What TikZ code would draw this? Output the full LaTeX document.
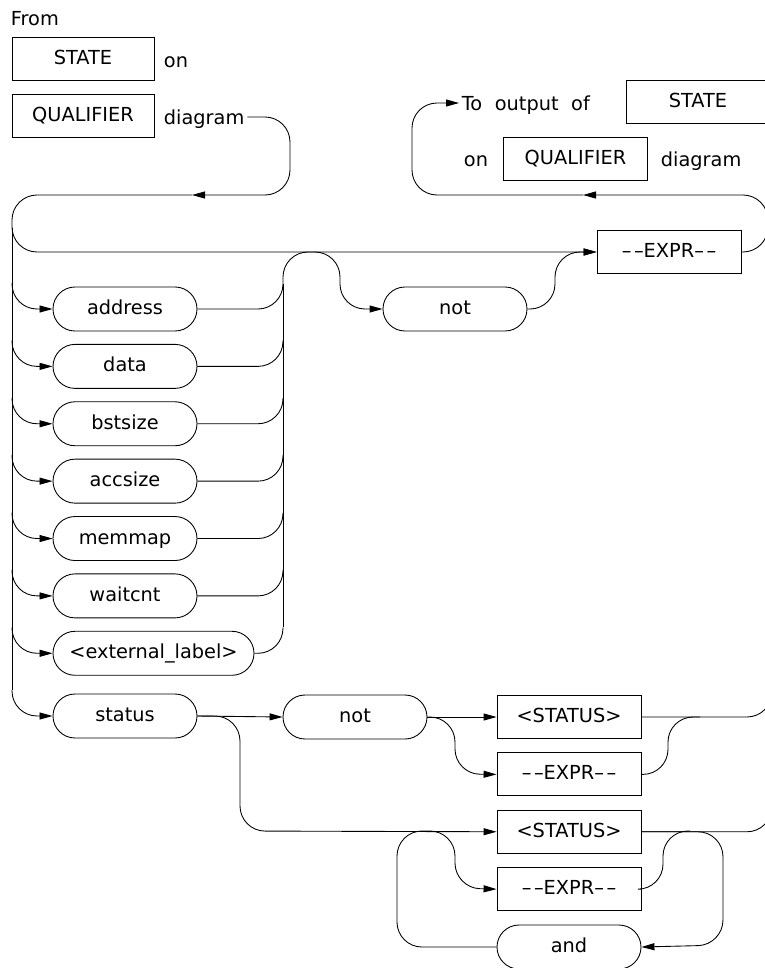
\documentclass[tikz,border=0pt]{standalone}
\usepackage{fontspec}
\setmainfont{DejaVu Sans}
\usetikzlibrary{arrows.meta,positioning,calc}
\newcommand{\exprdash}{\textendash\kern1.5pt\textendash}

\begin{document}
\begin{tikzpicture}[
  x=0.2mm,y=0.2mm,
  font=\fontsize{11}{13}\selectfont,
  >={Triangle[length=2.6mm,width=1.4mm]},
  line width=0.5pt,
  kw/.style={draw,rounded corners=4.4mm,minimum width=28.8mm,minimum height=8.8mm,inner sep=1pt,text height=2.9mm,text depth=0.7mm},
  refbox/.style={draw,minimum width=28.8mm,minimum height=8.6mm,inner sep=1pt,text height=2.9mm,text depth=0.7mm},
  txt/.style={inner sep=0.5mm,text height=2.9mm,text depth=0mm,anchor=west},
  wire/.style={rounded corners=5mm},
  node distance=2.5mm,
]
\useasboundingbox (0,0) rectangle (765,-968);
\clip (0,0) rectangle (765,-968);

% ============ entry / exit labels ============
\node[txt] (from) at (8,-18) {From};
\node[refbox,minimum width=28.4mm] (stateA) at (83,-59) {STATE};
\node[txt] (onA) at (161,-60) {on};
\node[refbox,minimum width=28.4mm] (qualA) at (83,-116) {QUALIFIER};
\node[txt] (diagA) at (161,-117) {diagram};

\node[txt] (tout) at (459,-103) {\spaceskip=0.65em To output of};
\node[refbox] (stateB) at (698,-102) {STATE};
\node[txt] (onB) at (461,-159) {on};
\node[refbox] (qualB) at (575.5,-158.5) {QUALIFIER};
\node[txt] (diagB) at (658,-159) {diagram};

% ============ expression loop ============
\node[refbox] (expr) at (669,-252) {\exprdash EXPR\exprdash};
\node[kw] (notA) at (455,-309) {not};

\node[kw] (addr) at (125,-309) {address};
\node[kw,below=of addr] (data) {data};
\node[kw,below=of data] (bst) {bstsize};
\node[kw,below=of bst] (acc) {accsize};
\node[kw,below=of acc] (mem) {memmap};
\node[kw,below=of mem] (wait) {waitcnt};
\node[kw,minimum width=40.2mm,below=of wait.south west,anchor=north west] (ext) {<external\_label>};

% ============ status branch ============
\node[kw] (status) at (125,-716) {status};
\node[kw] (notB) at (355,-717) {not};
\node[refbox] (stat1) at (569,-717) {<STATUS>};
\node[refbox,below=2.7mm of stat1] (expr2) {\exprdash EXPR\exprdash};
\node[refbox,below=2.7mm of expr2] (stat2) {<STATUS>};
\node[refbox,below=2.7mm of stat2] (expr3) {\exprdash EXPR\exprdash};
\node[kw,below=2.7mm of expr3] (andn) {and};

\coordinate (bus) at (12,-228);
\coordinate (colr) at (283,-284);
\coordinate (inA) at (192,-195);
\coordinate (ret) at (583,-195);

% entry and main line
\draw[->,wire] (diagA.east) -| (290,-195) -- (inA);
\draw[->,wire] (inA) -| (12,-252) -- (expr.west);

% left bus
\draw (bus) -- ($(status.west -| bus)+(0,26)$);
\draw[->,wire] ($(addr.west -| bus)+(0,26)$) |- (addr.west);
\draw[->,wire] ($(data.west -| bus)+(0,26)$) |- (data.west);
\draw[->,wire] ($(bst.west -| bus)+(0,26)$) |- (bst.west);
\draw[->,wire] ($(acc.west -| bus)+(0,26)$) |- (acc.west);
\draw[->,wire] ($(mem.west -| bus)+(0,26)$) |- (mem.west);
\draw[->,wire] ($(wait.west -| bus)+(0,26)$) |- (wait.west);
\draw[->,wire] ($(ext.west -| bus)+(0,26)$) |- (ext.west);
\draw[->,wire] ($(status.west -| bus)+(0,26)$) |- (status.west);

% right collector
\draw (colr) -- ($(ext.east -| colr)+(0,26)$);
\draw[->,wire] (addr.east) -| (283,-252) -| (340,-309) -- (notA.west);
\draw[wire] (data.east) -| ($(data.east -| colr)+(0,26)$);
\draw[wire] (bst.east) -| ($(bst.east -| colr)+(0,26)$);
\draw[wire] (acc.east) -| ($(acc.east -| colr)+(0,26)$);
\draw[wire] (mem.east) -| ($(mem.east -| colr)+(0,26)$);
\draw[wire] (wait.east) -| ($(wait.east -| colr)+(0,26)$);
\draw[wire] (ext.east) -| ($(ext.east -| colr)+(0,26)$);
\draw[->,wire] (notA.east) -| (555,-252) -- (expr.west);

% back to output
\draw[->,wire] (expr.east) -| (768,-195) -- (ret);
\draw[->,wire] (ret) -| (412,-103) -- (tout.west);

% status paths
\draw[->] (status.east) -- (notB.west);
\draw[->,wire] (status.east) -| (240,-831) -- (stat2.west);
\draw[->] (notB.east) -- (stat1.west);
\draw[->,wire] (notB.east) -| (455,-774) -- (expr2.west);
\draw[wire] (stat1.east) -| (772,-640);
\draw[wire] (expr2.east) -| (668,-717) -- (700,-717);
\draw[wire] (stat2.east) -| (772,-760);
\draw[wire] (expr3.east) -| (663,-831) -- (690,-831);
\draw[->,wire] (stat2.east) -| (723,-945) -- (andn.east);
\draw[->,wire] (andn.west) -| (397,-831) -| (455,-888) -- (expr3.west);

\end{tikzpicture}
\end{document}
